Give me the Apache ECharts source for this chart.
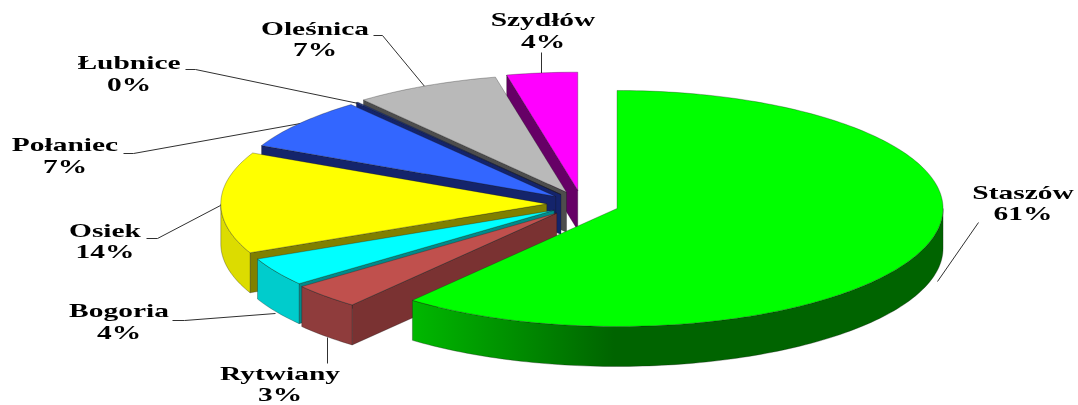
<!DOCTYPE html>
<html><head><meta charset="utf-8">
<style>html,body{margin:0;padding:0;background:#fff}#c{width:1078px;height:405px}</style>
<script src="https://cdn.jsdelivr.net/npm/echarts@6/dist/echarts.min.js"></script>
</head><body><div id="c"></div>
<script>
// Data, clockwise from 12 o'clock
const categories = ['Staszów','Rytwiany','Bogoria','Osiek','Połaniec','Łubnice','Oleśnica','Szydłów'];
const values = [60.8, 3.5, 3.9, 13.9, 7.1, 0.1, 7.2, 3.5];
const percentLabels = ['61%','3%','4%','14%','7%','0%','7%','4%'];

// Look of each slice (colours, explosion, label placement, leader line)
const LOOK = {
  'Staszów': {top:'#00ff00', rim:{type:'linear',x:0,y:0,x2:1,y2:0,colorStops:[{offset:0,color:'#00b800'},{offset:.38,color:'#006400'},{offset:1,color:'#006400'}]}, face:'#006400', explode:.114, lx:1023, ly:194, py:215, leader:[[978,222],[937,281]]},
  'Rytwiany':{top:'#c0504d', rim:'#8f3c3c', face:'#7a3232', explode:.109, lx:280, ly:375, py:396, leader:[[327,363],[327,337]]},
  'Bogoria': {top:'#00ffff', rim:'#00cccc', face:'#008b8b', explode:.100, lx:119, ly:312, py:334, leader:[[172,320],[184,320],[275,313]]},
  'Osiek':   {top:'#ffff00', rim:'#dcdc00', face:'#808000', explode:.108, lx:105, ly:232, py:253, leader:[[146,238],[157,238],[220,205]]},
  'Połaniec':{top:'#3366ff', rim:'#1a3380', face:'#14246b', explode:.103, lx:65,  ly:146, py:168, leader:[[123,153],[133,153],[300,123]]},
  'Łubnice': {top:'#1f3a93', rim:'#14246b', face:'#14246b', explode:.103, lx:129, ly:64,  py:86,  leader:[[185,69],[195,69],[358,103]]},
  'Oleśnica':{top:'#b9b9b9', rim:'#6e6e6e', face:'#4d4d4d', explode:.110, lx:315, ly:30,  py:51,  leader:[[373,35],[382,35],[425,87]]},
  'Szydłów': {top:'#ff00ff', rim:'#800080', face:'#660066', explode:.118, lx:543, ly:21,  py:43,  leader:[[541,52],[541,75]]}
};
const PIE = {cx:582, cy:204, rx:326, ry:118, depth:40};
const TEXT = {fontFamily:'"Liberation Serif"', fontWeight:'bold', fontSize:19, fill:'#000', align:'center', verticalAlign:'middle'};
const TEXT_STRETCH = 1.55;

const total = values.reduce((a,b)=>a+b,0);
const spans = []; let run = 0;
values.forEach(v => { const a0 = run/total*2*Math.PI; run += v; spans.push([a0, run/total*2*Math.PI]); });

function at(c, t, dy){ return [c[0]+PIE.rx*Math.sin(t), c[1]-PIE.ry*Math.cos(t)+(dy||0)]; }
function arc(c, t0, t1, dy){
  const n = Math.max(2, Math.ceil((t1-t0)/0.02)), p = [];
  for(let i=0;i<=n;i++) p.push(at(c, t0+(t1-t0)*i/n, dy));
  return p;
}
const EDGE = {stroke:'rgba(20,20,20,.5)', lineWidth:.6};

function renderSlice(params, api){
  const i = api.value(0), look = LOOK[categories[i]];
  const t0 = spans[i][0], t1 = spans[i][1], mid = (t0+t1)/2;
  const c = [PIE.cx+look.explode*PIE.rx*Math.sin(mid), PIE.cy-look.explode*PIE.ry*Math.cos(mid)];
  const kids = [];
  const poly = (points, fill) => kids.push({type:'polygon', shape:{points}, style:Object.assign({fill}, EDGE)});
  const wall = t => {
    const e = at(c,t);
    poly([c, e, [e[0], e[1]+PIE.depth], [c[0], c[1]+PIE.depth]], look.face);
  };
  if (Math.sin(t0) < -1e-6) wall(t0);
  if (Math.sin(t1) > 1e-6) wall(t1);
  const a = Math.max(t0, Math.PI/2), b = Math.min(t1, 1.5*Math.PI);
  if (b > a) poly(arc(c,a,b,0).concat(arc(c,a,b,PIE.depth).reverse()), look.rim);
  poly([c].concat(arc(c,t0,t1,0)), look.top);
  return {type:'group', children:kids};
}
function renderLeader(params, api){
  const look = LOOK[categories[api.value(0)]];
  return {type:'polyline', x:.5, y:.5, shape:{points:look.leader}, style:{fill:null, stroke:'#303030', lineWidth:1}};
}
function renderLabel(params, api){
  const i = api.value(0), look = LOOK[categories[i]];
  const t = (s,y) => ({type:'text', x:look.lx, y, scaleX:TEXT_STRETCH, style:Object.assign({text:s}, TEXT)});
  return {type:'group', children:[t(categories[i],look.ly), t(percentLabels[i],look.py)]};
}
const forward = categories.map((c,i)=>[i, values[i]]);
const backToFront = forward.slice().reverse();

const chart = echarts.init(document.getElementById('c'));
chart.setOption({
  backgroundColor:'#fff', animation:false,
  series:[
    {type:'custom', coordinateSystem:'none', z:1, silent:true, renderItem:renderLeader, data:forward},
    {type:'custom', coordinateSystem:'none', z:2, silent:true, renderItem:renderSlice, data:backToFront},
    {type:'custom', coordinateSystem:'none', z:3, silent:true, renderItem:renderLabel, data:forward}
  ]
});
</script></body></html>
